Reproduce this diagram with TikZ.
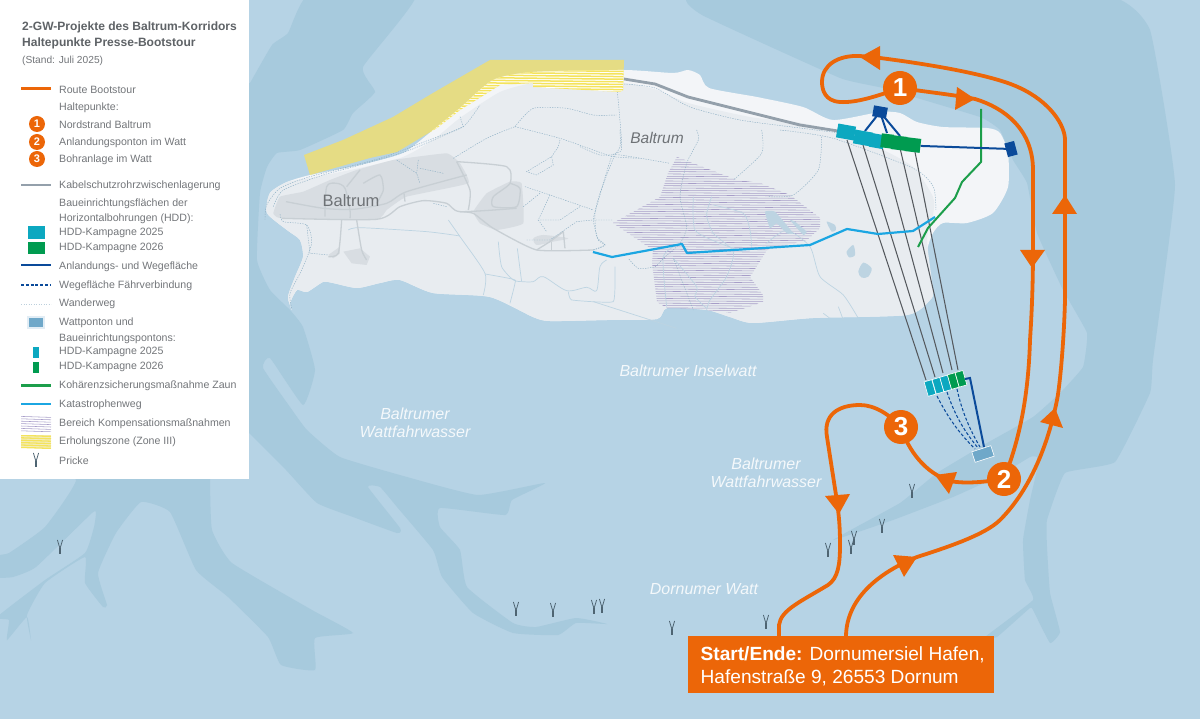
\documentclass[tikz,border=0pt]{standalone}
\usepackage{fontspec}
\setmainfont{Liberation Sans}
\usetikzlibrary{calc}
\definecolor{waterL}{HTML}{B6D3E5}
\definecolor{waterD}{HTML}{A7CADD}
\definecolor{beach}{HTML}{F3F5F8}
\definecolor{land}{HTML}{E8ECF0}
\definecolor{village}{HTML}{D8DDE2}
\definecolor{roadc}{HTML}{C8CFD4}
\definecolor{creek}{HTML}{BDD4E2}
\definecolor{trailc}{HTML}{8FB0C5}
\definecolor{routec}{HTML}{EC6608}
\definecolor{cablec}{HTML}{94A0AB}
\definecolor{hddc}{HTML}{0CA8C0}
\definecolor{hddg}{HTML}{009B50}
\definecolor{deepb}{HTML}{0A4A9A}
\definecolor{fencec}{HTML}{1C9E4B}
\definecolor{katc}{HTML}{1BA6E2}
\definecolor{hatchp}{HTML}{A79DC8}
\definecolor{zoneY}{HTML}{E5DC84}
\definecolor{hatchY}{HTML}{F4E35C}
\definecolor{drillc}{HTML}{55595E}
\definecolor{pontonc}{HTML}{6FA8C9}
\definecolor{legtxt}{HTML}{73767A}
\definecolor{titletxt}{HTML}{5F6367}
\definecolor{maplbl}{HTML}{6E7276}
\definecolor{prickec}{HTML}{4E6472}
\tikzset{
 legtext/.style={anchor=west,inner sep=0pt,yshift=-.8pt,text=legtxt,font=\fontsize{10.6}{12}\selectfont},
 wattlbl/.style={inner sep=0pt,text=white,opacity=.85,align=center,font=\fontsize{16}{18}\selectfont\itshape},
 routeline/.style={draw=routec,line width=3.8pt},
 stopmark/.style={circle,fill=routec,draw=none,minimum size=34pt,inner sep=0pt,text=white,font=\fontsize{26}{26}\selectfont\bfseries},
 legstop/.style={circle,fill=routec,draw=none,minimum size=16pt,inner sep=0pt,text=white,font=\fontsize{11}{11}\selectfont\bfseries},
 arrowtri/.style={fill=routec,draw=none},
 roadl/.style={draw=roadc,line width=1.3pt,line join=round},
 creekl/.style={draw=creek,line width=.7pt},
 traill/.style={draw=trailc,line width=.45pt,dash pattern=on 1.3pt off 1.2pt},
 vill/.style={fill=village,draw=none},
 drill/.style={draw=drillc,line width=1.05pt},
 padc/.style={fill=hddc,draw=none,minimum width=18pt,minimum height=14pt,inner sep=0pt,rotate=-10},
 padg/.style={fill=hddg,draw=none,minimum width=15pt,minimum height=14pt,inner sep=0pt,rotate=-7},
 pontc/.style={fill=hddc,draw=white,line width=.6pt,minimum width=8pt,minimum height=15pt,inner sep=0pt,rotate=16},
 pontg/.style={fill=hddg,draw=white,line width=.6pt,minimum width=8pt,minimum height=15pt,inner sep=0pt,rotate=16},
 bluesq/.style={fill=deepb,draw=none,inner sep=0pt},
 bluel/.style={draw=deepb,line width=2pt},
 bluedash/.style={draw=deepb,line width=1.05pt,dash pattern=on 3pt off 2pt},
}
\newcommand\prickeicon[2]{%
 \draw[draw=prickec,line width=1.2pt] (#1,#2+1) -- (#1,#2+7);
 \draw[draw=prickec,line width=.8pt] (#1-2.6,#2-7) -- (#1-.2,#2+1) (#1+2.6,#2-7) -- (#1+.2,#2+1);}
\def\islandpath{plot[smooth cycle,tension=.4] coordinates{(292,310)(288,297)(295,277)(303,257)(300,240)(287,230)(267,213)(270,193)(287,182)(310,175)(360,165)(403,153)(433,130)(460,108)(493,80)(533,72)(624,70)(673,73)(688,70)(700,75)(709,88)(757,97)(803,107)(833,120)(880,112)(900,113)(917,122)(943,127)(987,128)(1000,133)(1008,153)(1008,187)(993,213)(967,223)(943,223)(933,233)(927,253)(933,290)(930,300)(907,315)(813,318)(753,323)(730,317)(707,310)(667,308)(657,319)(607,320)(550,321)(533,317)(490,297)(433,293)(400,280)(380,283)(357,288)(333,283)(323,282)(307,292)(297,290)(290,303)}}
\def\yellowpath{(304,155) -- (310,175) -- (370,158) -- (397,152) -- (437,128) -- (460,110) -- (500,85) -- (533,83) -- (533,87) -- (620,92) -- (623,90) -- (624,60) -- (490,60) -- (433,93) -- (393,117) -- (343,140) -- cycle}
\begin{document}
\begin{tikzpicture}[x=1pt,y=-1pt]
\useasboundingbox (0,0) rectangle (1200,719);
\fill[waterL] (0,0) rectangle (1200,719);
% channels
\fill[waterD] plot[smooth cycle,tension=.25] coordinates{(309,-5)(288,33)(272,45)(250,83)(245,90)(245,433)(249,433)(286,470)(317,503)(353,517)(397,533)(400,528)(368,487)(380,487)(397,507)(433,550)(442,577)(473,613)(513,633)(558,635)(576,623)(607,624)(576,618)(536,627)(513,623)(467,587)(460,550)(440,527)(440,508)(505,515)(512,500)(545,483)(478,495)(407,477)(340,457)(307,430)(290,407)(263,368)(270,358)(303,405)(315,370)(303,327)(290,310)(270,290)(257,260)(260,193)(267,167)(277,153)(300,150)(343,130)(353,113)(375,92)(363,67)(416,-5)};
\fill[waterD] plot[smooth cycle,tension=.25] coordinates{(0,400)(210,400)(210,480)(212,530)(232,563)(312,610)(353,633)(315,638)(315,670)(281,665)(268,637)(228,597)(196,570)(170,512)(141,502)(116,533)(98,573)(107,605)(103,607)(85,583)(85,557)(45,583)(27,615)(31,640)(27,617)(7,640)(9,620)(-3,617)(45,580)(85,553)(94,527)(96,513)(92,513)(36,567)(13,577)(-3,577)(-3,556)(9,553)(45,527)(76,480)(40,450)};
\fill[waterD] plot[smooth cycle,tension=.2] coordinates{(696,-5)(702,15)(840,78)(883,88)(980,117)(1000,130)(1013,160)(1027,183)(1037,233)(1063,290)(1087,333)(1083,367)(1060,393)(1033,417)(987,443)(937,473)(900,503)(833,540)(893,520)(953,497)(997,477)(1030,457)(1037,457)(1037,470)(1030,500)(1023,540)(1025,580)(1033,600)(985,637)(997,637)(1030,608)(1033,610)(1050,643)(1060,632)(1050,593)(1047,547)(1047,520)(1065,473)(1115,462)(1150,393)(1153,360)(1175,185)(1150,30)(1103,-5)};
% island
\fill[beach] \islandpath;
\fill[land] plot[smooth cycle,tension=.4] coordinates{(292,310)(288,297)(295,277)(303,257)(300,240)(287,230)(267,213)(270,193)(287,182)(310,178)(360,168)(403,157)(433,140)(460,118)(500,92)(533,83)(560,82)(624,83)(657,90)(688,103)(750,117)(795,122)(833,130)(877,147)(913,167)(933,197)(933,215)(927,240)(933,290)(930,300)(907,315)(813,318)(753,323)(730,317)(707,310)(667,308)(657,319)(607,320)(550,321)(533,317)(490,297)(433,293)(400,280)(380,283)(357,288)(333,283)(323,282)(307,292)(297,290)(290,303)};
% zoom-5 frame details
\begin{scope}[shift={(260pt,-50pt)},x=.3333pt,y=-.3333pt]
 \fill[vill] plot[smooth cycle,tension=.2] coordinates{(40,490)(60,440)(130,425)(210,390)(290,360)(400,330)(560,310)(600,340)(625,400)(440,440)(380,480)(350,508)(65,505)};
 \fill[vill] plot[smooth cycle,tension=.2] coordinates{(640,485)(680,430)(750,395)(785,400)(790,520)(710,540)(660,520)};
 \fill[vill] (205,615) -- (240,590) -- (240,610) -- (220,625) -- cycle;
 \fill[vill] (250,605) -- (300,595) -- (330,620) -- (320,645) -- (275,640) -- cycle;
 \fill[vill] plot[smooth cycle,tension=.4] coordinates{(820,565)(850,555)(925,565)(880,575)(830,585)};
 \draw[creekl] plot[smooth,tension=.4] coordinates{(265,540)(300,533)(500,545)(600,558)};
 \draw[creekl] plot[smooth,tension=.4] coordinates{(565,510)(600,560)(675,670)(670,735)};
 \draw[creekl] plot[smooth,tension=.4] coordinates{(715,575)(725,650)(760,690)(785,695)};
 \draw[creekl] plot[smooth,tension=.4] coordinates{(772,595)(785,695)};
 \draw[creekl] plot[smooth,tension=.4] coordinates{(675,672)(760,688)(765,700)(750,760)};
 \draw[creekl] plot[smooth,tension=.5] coordinates{(785,695)(820,695)(850,680)(920,722)(980,712)(1010,722)(1020,650)(1040,630)};
 \draw[creekl] plot[smooth,tension=.2] coordinates{(925,725)(935,750)(1060,755)(1065,650)};
 \draw[creekl] (1000,755) -- (1250,835);
 \draw[roadl] plot[smooth,tension=.4] coordinates{(78,455)(190,475)(280,478)(380,460)(440,425)(620,375)};
 \draw[roadl] plot[smooth,tension=.4] coordinates{(65,505)(350,508)(420,470)(490,452)(560,460)(600,485)(770,475)};
 \draw[roadl] plot[smooth,tension=.3] coordinates{(600,485)(640,490)(700,535)(830,600)(1000,600)};
 \draw[roadl] plot[smooth,tension=.4] coordinates{(590,335)(740,350)(750,400)(700,440)(700,470)(770,470)(780,415)(750,400)};
 \draw[roadl] plot[smooth,tension=.4] coordinates{(590,335)(630,420)(625,480)};
 \draw[roadl] (435,455) -- (432,430);
 \draw[roadl] plot[smooth,tension=.4] coordinates{(245,510)(235,610)(205,620)};
 \draw[roadl] plot[smooth,tension=.4] coordinates{(290,510)(305,600)(320,630)};
 \draw[roadl] plot[smooth,tension=.5] coordinates{(195,500)(200,410)(230,400)(255,415)(270,480)(270,505)};
 \draw[roadl] (300,360) -- (260,410);
 \draw[roadl] plot[smooth,tension=.4] coordinates{(310,400)(360,375)(370,420)(350,460)};
 \draw[roadl] (830,600) -- (870,575) -- (910,545) -- (915,595);
 \draw[roadl] (875,575) -- (875,600);
 \draw[traill] plot[smooth,tension=.4] coordinates{(95,775)(90,730)(125,660)(155,580)(140,525)(70,515)(60,490)};
 \draw[traill] plot[smooth,tension=.4] coordinates{(15,510)(20,465)(60,415)(150,380)(360,325)(520,265)(610,230)(660,165)};
 \draw[traill] plot[smooth,tension=.4] coordinates{(40,470)(70,420)(190,375)(300,345)(450,300)(610,230)};
 \draw[traill] plot[smooth,tension=.4] coordinates{(1072,125)(1085,295)(1055,320)(1010,470)(1000,510)(1015,570)(1035,585)(1000,600)};
 \draw[traill] plot[smooth,tension=.4] coordinates{(765,230)(820,175)(920,175)(1000,195)(1070,195)};
 \draw[traill] plot[smooth,tension=.4] coordinates{(765,230)(900,265)(1000,300)(1060,320)(1140,325)};
 \draw[traill] plot[smooth,tension=.4] coordinates{(580,325)(680,265)(765,230)};
 \draw[traill] (410,330) -- (470,370) -- (480,400) (475,330) -- (470,370) (480,355) -- (550,370);
 \draw[traill] (900,270) -- (895,290) -- (875,320) -- (800,365) -- (830,375) -- (880,345) -- (875,320);
 \draw[traill] (795,410) -- (870,435) -- (1000,480) (960,470) -- (900,510) -- (830,510) (870,435) -- (835,510) -- (860,545) (790,470) -- (840,430);
 \draw[traill] (800,570) -- (870,570) -- (950,515) -- (1000,510) -- (1060,510);
 \draw[traill] (520,460) -- (560,470) (140,525) -- (150,610) -- (205,615) (600,200) -- (610,230);
\end{scope}
% purple compensation area and zoom-6 details
\begin{scope}
 \clip (677,157) -- (690,162) -- (737,180) -- (760,183) -- (790,195) -- (820,218) -- (820,228) -- (807,240) -- (767,250) -- (750,277) -- (763,295) -- (763,302) -- (730,313) -- (707,310) -- (667,308) -- (657,302) -- (652,263) -- (653,250) -- (613,223) -- (660,197) -- (668,173) -- cycle;
 \foreach \yy in {150,152.35,...,322}{\draw[draw=hatchp,line width=.55pt] (600,\yy) -- (830,\yy+1.5);}
\end{scope}
\begin{scope}[shift={(580pt,-130pt)},x=.3333pt,y=-.3333pt]
 \fill[creek] plot[smooth cycle,tension=.4] coordinates{(740,275)(765,285)(768,300)(755,305)};
 \fill[creek] plot[smooth cycle,tension=.5] coordinates{(800,365)(820,345)(825,375)(808,382)};
 \fill[creek] plot[smooth cycle,tension=.5] coordinates{(835,425)(850,398)(875,415)(865,440)(845,443)};
 \fill[creek] plot[smooth cycle,tension=.2] coordinates{(555,245)(585,245)(640,310)(620,310)(590,280)(570,295)};
 \fill[creek] plot[smooth cycle,tension=.2] coordinates{(630,270)(645,275)(680,305)(670,315)};
 \draw[creekl] plot[smooth,tension=.4] coordinates{(340,200)(345,300)(420,340)(490,365)};
 \draw[creekl] plot[smooth,tension=.4] coordinates{(395,200)(380,255)(400,310)(460,365)(440,440)(390,510)(380,540)};
 \draw[creekl] plot[smooth,tension=.4] coordinates{(400,225)(490,250)(510,300)(515,350)};
 \draw[creekl] plot[smooth,tension=.4] coordinates{(300,340)(250,380)(260,530)};
 \draw[creekl] plot[smooth,tension=.4] coordinates{(280,385)(350,470)(345,500)(380,535)};
 \draw[creekl] plot[smooth,tension=.4] coordinates{(560,340)(620,300)(690,350)(720,440)(790,495)(835,565)};
 \draw[creekl] (775,530) -- (790,570) (730,550) -- (750,565);
 \draw[traill] plot[smooth,tension=.4] coordinates{(0,50)(60,75)(120,75)(270,100)};
 \draw[traill] plot[smooth,tension=.4] coordinates{(120,0)(120,50)(100,85)(60,190)(45,250)(50,320)(75,345)(40,360)};
 \draw[traill] plot[smooth,tension=.4] coordinates{(350,0)(355,30)(320,100)(300,200)(320,290)(300,340)(250,385)(225,410)(175,415)(145,385)};
 \draw[traill] plot[smooth,tension=.4] coordinates{(545,0)(545,70)(460,150)};
 \draw[traill] plot[smooth,tension=.4] coordinates{(725,20)(715,120)(640,195)(565,200)};
 \draw[traill] plot[smooth,tension=.4] coordinates{(600,0)(760,25)(1000,115)(1060,170)(1068,240)};
 \draw[traill] plot[smooth,tension=.4] coordinates{(280,385)(340,540)};
\end{scope}
\draw[traill] plot[smooth,tension=.4] coordinates{(624,84)(655,88)(690,107)(740,120)(800,128)(840,133)};
% yellow zone
\fill[zoneY] \yellowpath;
\begin{scope}
 \clip \yellowpath;
 \clip \islandpath;
 \fill[white] (280,40) rectangle (640,200);
 \foreach \yy in {40,42.6,...,200}{\draw[draw=hatchY,line width=1.5pt] (280,\yy-1) -- (640,\yy+3);}
\end{scope}
% cable storage
\draw[draw=cablec,line width=2.8pt] (624,79) -- (655,84) -- (688,97) -- (800,125) -- (838,131);
% corridor
\draw[drill] (847,140) -- (926,380);
\draw[drill] (863,145) -- (935,377);
\draw[drill] (882,147) -- (943,373);
\draw[drill] (900,148) -- (952,370);
\draw[drill] (915,152) -- (958,370);
% emergency path, fence
\draw[draw=katc,line width=2.2pt,line join=round] (593,252) -- (612,257) -- (682,244) -- (687,253) -- (810,245) -- (847,229) -- (878,234) -- (913,231) -- (935,217);
\draw[draw=fencec,line width=2pt,line join=round] (981,109) -- (981,162) -- (962,182) -- (955,198) -- (928,228) -- (918,247);
% landing tracks
\node[bluesq,minimum width=14pt,minimum height=11pt,rotate=-10] (sqtop) at (880,112) {};
\node[bluesq,minimum width=10pt,minimum height=14pt,rotate=15] (sqeast) at (1011,149) {};
\coordinate (padA) at (865,131);
\coordinate (padB) at (887,133);
\coordinate (padC) at (900,136);
\draw[bluel] (sqtop.center) -- (padA) (sqtop.center) -- (padB) (sqtop.center) -- (padC);
\node[padc] (p1) at (846,132) {};
\node[padc] (p2) at (863,138) {};
\node[padc,minimum width=14pt] (p3) at (877,141) {};
\node[padg,minimum width=12pt] (p4) at (887,141) {};
\node[padg] (p5) at (899,143) {};
\node[padg] (p6) at (913,145) {};
\draw[bluel] (p6.east) -- (sqeast.center);
% pontoons in the Watt
\node[fill=pontonc,draw=white,line width=.6pt,minimum width=20pt,minimum height=11pt,inner sep=0pt,rotate=18] (watt) at (983,454) {};
\node[pontc] (w1) at (930,388) {};
\node[pontc] (w2) at (938,385.7) {};
\node[pontc] (w3) at (945.7,383.4) {};
\node[pontg] (w4) at (953.3,381) {};
\node[pontg] (w5) at (961,378.8) {};
\draw[bluedash] (937,396) .. controls (948,418) and (960,434) .. (975,449);
\draw[bluedash] (947,392) .. controls (955,416) and (965,432) .. (978,448);
\draw[bluedash] (957,389) .. controls (962,412) and (970,430) .. (980,447);
\draw[bluel] (965,379) -- (970,378) -- (984,447);
% prickes
\prickeicon{60}{547}
\prickeicon{516}{609}
\prickeicon{553}{610}
\prickeicon{594}{607}
\prickeicon{602}{606}
\prickeicon{672}{628}
\prickeicon{766}{622}
\prickeicon{828}{550}
\prickeicon{854}{538}
\prickeicon{851}{547}
\prickeicon{882}{526}
\prickeicon{912}{491}
% map labels
\node[inner sep=0pt,text=maplbl,font=\fontsize{16.5}{18}\selectfont] (lblvillage) at (351,201) {Baltrum};
\node[inner sep=0pt,text=maplbl,font=\fontsize{15.5}{18}\selectfont\itshape] (lblisland) at (657,138) {Baltrum};
\node[wattlbl] (lblinsel) at (688,371) {Baltrumer Inselwatt};
\node[wattlbl] (lblwf1) at (415,423) {Baltrumer\\Wattfahrwasser};
\node[wattlbl] (lblwf2) at (766,473) {Baltrumer\\Wattfahrwasser};
\node[wattlbl] (lbldorn) at (704,589) {Dornumer Watt};
% start box
\node[fill=routec,draw=none,anchor=north west,minimum width=306pt,minimum height=57pt,inner sep=0pt] (startbox) at (688,636) {};
\node[anchor=west,inner sep=0pt,text=white,align=left,font=\fontsize{19.1}{23.3}\selectfont] (starttext) at (700.5,666) {\textbf{Start/Ende:} Dornumersiel Hafen,\\Hafenstraße 9, 26553 Dornum};
% route
\coordinate (r1) at (900,88);
\coordinate (r2) at (1004,479);
\coordinate (r3) at (901,427);
\coordinate (sA) at (779,637);
\coordinate (sB) at (846,637);
\draw[routeline] (sA) -- (779,625) .. controls (781,610) and (800,602) .. (828,585) .. controls (838,578) and (840,565) .. (840,545) .. controls (840,520) and (838,510) .. (836,495) -- (827,437) .. controls (823,415) and (838,405) .. (860,405) .. controls (875,405) and (890,415) .. (r3);
\draw[routeline] (r3) .. controls (908,450) and (925,473) .. (950,481) .. controls (965,484) and (985,482) .. (r2);
\draw[routeline] (r2) .. controls (1015,450) and (1028,410) .. (1030,340) .. controls (1032,310) and (1033,280) .. (1033,250) -- (1033,170) .. controls (1033,130) and (1005,108) .. (975,99) .. controls (955,95) and (935,93) .. (r1);
\draw[routeline] (r1) .. controls (875,97) and (855,103) .. (840,102) .. controls (825,101) and (822,90) .. (822,82) .. controls (822,65) and (838,55) .. (860,56) -- (880,58) .. controls (950,67) and (1000,78) .. (1020,88) .. controls (1050,102) and (1065,125) .. (1065,140) -- (1065,300) .. controls (1064,340) and (1060,385) .. (1057,400) .. controls (1048,445) and (1030,490) .. (1000,520) .. controls (985,535) and (945,548) .. (917,557) .. controls (885,570) and (846,595) .. (sB);
\fill[arrowtri] (860,57) -- (880,46) -- (880,70) -- cycle;
\fill[arrowtri] (975,99) -- (957,87) -- (955,110) -- cycle;
\fill[arrowtri] (1032,268) -- (1020,250) -- (1045,250) -- cycle;
\fill[arrowtri] (1065,195) -- (1052,214) -- (1077,214) -- cycle;
\fill[arrowtri] (1055,408) -- (1040,422) -- (1063,428) -- cycle;
\fill[arrowtri] (935,475) -- (957,472) -- (949,494) -- cycle;
\fill[arrowtri] (839,514) -- (825,496) -- (850,494) -- cycle;
\fill[arrowtri] (917,557) -- (893,555) -- (904,577) -- cycle;
\node[stopmark] (stop1) at (r1) {1};
\node[stopmark] (stop2) at (r2) {2};
\node[stopmark] (stop3) at (r3) {3};
% legend
\fill[white] (0,0) rectangle (249,479);
\node[anchor=west,inner sep=0pt,text=titletxt,font=\fontsize{12.05}{14}\selectfont\bfseries] (t1) at (22,27) {2-GW-Projekte des Baltrum-Korridors};
\node[anchor=west,inner sep=0pt,text=titletxt,font=\fontsize{12.05}{14}\selectfont\bfseries] (t2) at (22,43) {Haltepunkte Presse-Bootstour};
\node[anchor=west,inner sep=0pt,text=legtxt,font=\fontsize{10.2}{12}\selectfont] (t3) at (22,60.5) {(Stand: Juli 2025)};
\node[legtext] (l01) at (59,89) {Route Bootstour};
\node[legtext] (l02) at (59,107) {Haltepunkte:};
\node[legtext] (l03) at (59,124) {Nordstrand Baltrum};
\node[legtext] (l04) at (59,142) {Anlandungsponton im Watt};
\node[legtext] (l05) at (59,159) {Bohranlage im Watt};
\node[legtext] (l06) at (59,185) {Kabelschutzrohrzwischenlagerung};
\node[legtext] (l07) at (59,203) {Baueinrichtungsflächen der};
\node[legtext] (l08) at (59,218) {Horizontalbohrungen (HDD):};
\node[legtext] (l09) at (59,232) {HDD-Kampagne 2025};
\node[legtext] (l10) at (59,247) {HDD-Kampagne 2026};
\node[legtext] (l11) at (59,266) {Anlandungs- und Wegefläche};
\node[legtext] (l12) at (59,285) {Wegefläche Fährverbindung};
\node[legtext] (l13) at (59,303) {Wanderweg};
\node[legtext] (l14) at (59,322) {Wattponton und};
\node[legtext] (l15) at (59,338) {Baueinrichtungspontons:};
\node[legtext] (l16) at (59,351) {HDD-Kampagne 2025};
\node[legtext] (l17) at (59,366) {HDD-Kampagne 2026};
\node[legtext] (l18) at (59,385) {Kohärenzsicherungsmaßnahme Zaun};
\node[legtext] (l19) at (59,404) {Katastrophenweg};
\node[legtext] (l20) at (59,423) {Bereich Kompensationsmaßnahmen};
\node[legtext] (l21) at (59,441) {Erholungszone (Zone III)};
\node[legtext] (l22) at (59,460) {Pricke};
\draw[draw=routec,line width=3.2pt] (21,88.5) -- (51,88.5);
\node[legstop] (ls1) at (37,124) {1};
\node[legstop] (ls2) at (37,142) {2};
\node[legstop] (ls3) at (37,159) {3};
\draw[draw=cablec,line width=2.4pt] (21,185) -- (51,185);
\fill[hddc] (27.5,226) rectangle (44.5,239);
\fill[hddg] (27.5,242) rectangle (44.5,254);
\draw[draw=deepb,line width=2.2pt] (21,265) -- (51,265);
\draw[bluedash,line width=1.2pt,dash pattern=on 3pt off 1.8pt] (21,285) -- (51,285);
\draw[traill,draw=trailc!60] (21,304) -- (51,304);
\fill[waterL!40] (27,316) rectangle (45,329);
\fill[pontonc] (29,318) rectangle (43,327);
\fill[hddc] (33,347) rectangle (39,358);
\fill[hddg] (33,362) rectangle (39,373);
\draw[draw=fencec,line width=2.4pt] (21,385.5) -- (51,385.5);
\draw[draw=katc,line width=2.4pt] (21,404) -- (51,404);
\begin{scope}
 \clip (21,416) rectangle (51,431);
 \foreach \yy in {414,416.4,...,433}{\draw[draw=hatchp,line width=.55pt] (21,\yy) -- (51,\yy+1);}
\end{scope}
\begin{scope}
 \clip (21,435) rectangle (51,448);
 \fill[zoneY!50] (21,435) rectangle (51,448);
 \foreach \yy in {433,435.4,...,450}{\draw[draw=hatchY,line width=1.3pt] (21,\yy) -- (51,\yy+1);}
\end{scope}
\prickeicon{36}{460}
\end{tikzpicture}
\end{document}
